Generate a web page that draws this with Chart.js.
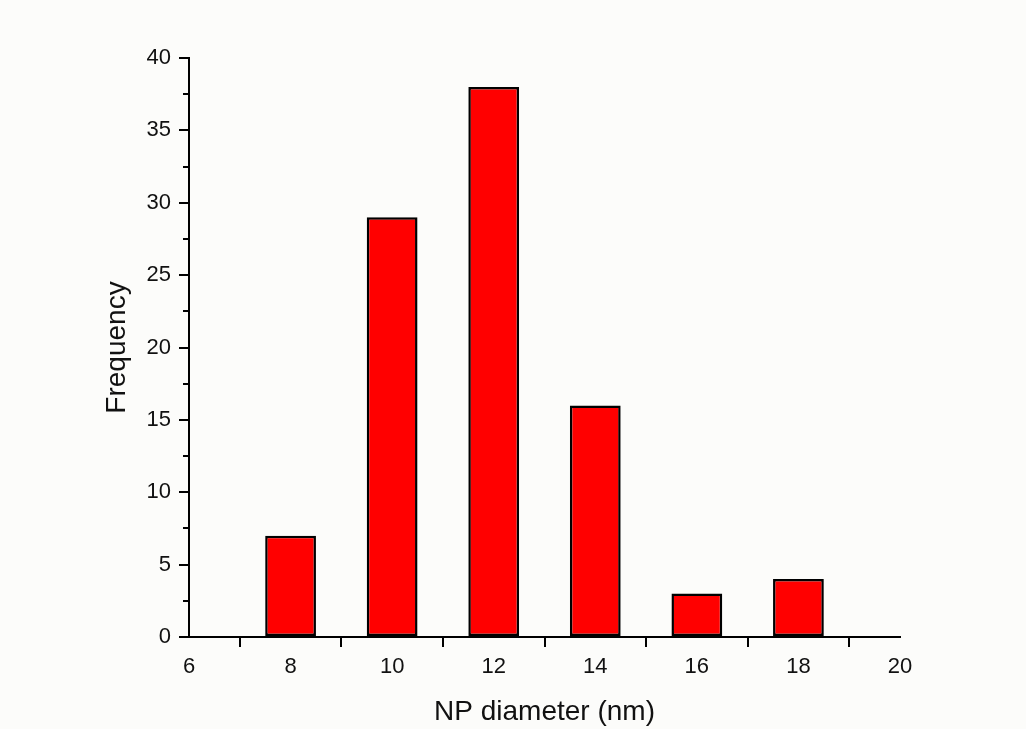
<!DOCTYPE html>
<html>
<head>
<meta charset="utf-8">
<script src="https://cdn.jsdelivr.net/npm/chart.js@4"></script>
<style>
  html, body { margin: 0; padding: 0; background: #fcfcfa; }
  #wrap { width: 1026px; height: 729px; }
</style>
</head>
<body>
<div id="wrap"><canvas id="c" width="1026" height="729"></canvas></div>
<script>
// Particle size histogram
const diameters = [8, 10, 12, 14, 16, 18];       // bin centres (nm)
const frequencies = [7, 29, 38, 16, 3, 4];        // counts per bin
const xTickRange = [6, 20];
const yTickRange = [0, 40];

const FONT = "'Liberation Sans', Arial, sans-serif";
const LEFT_PAD = 100;

// Small outward minor ticks halfway between the major ones
const minorTicks = {
  id: 'minorTicks',
  afterDraw(chart) {
    const ctx = chart.ctx;
    const xs = chart.scales.x, ys = chart.scales.y;
    const area = chart.chartArea;
    ctx.save();
    ctx.strokeStyle = '#000';
    ctx.lineWidth = 2;
    ctx.beginPath();
    for (let v = yTickRange[0] + 2.5; v < yTickRange[1]; v += 5) {
      const py = Math.round(ys.getPixelForValue(v));
      ctx.moveTo(area.left - 6, py);
      ctx.lineTo(area.left, py);
    }
    for (let v = xTickRange[0] + 1; v < xTickRange[1]; v += 2) {
      const px = Math.round(xs.getPixelForValue(v));
      ctx.moveTo(px, area.bottom);
      ctx.lineTo(px, area.bottom + 6);
    }
    ctx.stroke();
    ctx.restore();
  }
};

new Chart(document.getElementById('c'), {
  type: 'bar',
  data: {
    datasets: [{
      data: diameters.map((d, i) => ({ x: d, y: frequencies[i] })),
      backgroundColor: '#ff0000',
      borderColor: '#000',
      borderWidth: 2.5,
      borderSkipped: false,
      barPercentage: 0.5,
      categoryPercentage: 1.0
    }]
  },
  options: {
    responsive: false,
    animation: false,
    devicePixelRatio: 1,
    layout: { padding: { left: LEFT_PAD, right: 126, top: 58, bottom: 0 } },
    plugins: { legend: { display: false }, tooltip: { enabled: false } },
    scales: {
      x: {
        type: 'linear',
        min: xTickRange[0],
        max: xTickRange[1],
        offset: false,
        ticks: { stepSize: 2, color: '#111', font: { family: FONT, size: 22 }, padding: 7, maxRotation: 0 },
        grid: { drawOnChartArea: false, drawTicks: true, tickLength: 10, color: '#000', lineWidth: 2 },
        border: { display: true, color: '#000', width: 2 },
        title: { display: true, text: 'NP diameter (nm)', color: '#111', font: { family: FONT, size: 28 }, padding: { top: 2, bottom: 0 } },
        afterFit(scale) { scale.height = 92; }
      },
      y: {
        min: yTickRange[0],
        max: yTickRange[1],
        ticks: { stepSize: 5, color: '#111', font: { family: FONT, size: 22 }, padding: 8 },
        grid: { drawOnChartArea: false, drawTicks: true, tickLength: 10, color: '#000', lineWidth: 2 },
        border: { display: true, color: '#000', width: 2 },
        title: { display: true, text: 'Frequency', color: '#111', font: { family: FONT, size: 28 }, padding: { top: 0, bottom: 0 } },
        afterFit(scale) { scale.width = 189 - LEFT_PAD; }
      }
    }
  },
  plugins: [minorTicks]
});
</script>
</body>
</html>
